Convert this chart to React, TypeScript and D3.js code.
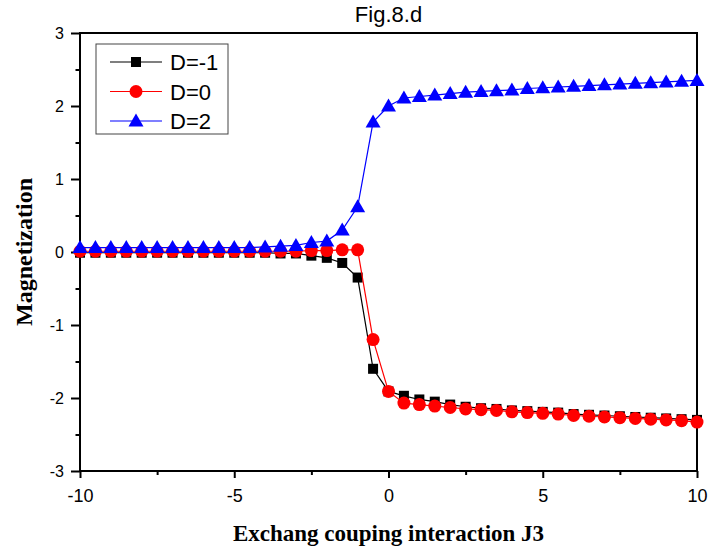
import { useEffect, useRef } from "react";
import * as d3 from "d3";

// значения J3 от -10 до 10 шагом 0.5
const jValues = [
  -10, -9.5, -9, -8.5, -8, -7.5, -7, -6.5, -6, -5.5, -5, -4.5, -4, -3.5, -3, -2.5, -2, -1.5, -1, -0.5,
  0, 0.5, 1, 1.5, 2, 2.5, 3, 3.5, 4, 4.5, 5, 5.5, 6, 6.5, 7, 7.5, 8, 8.5, 9, 9.5, 10,
];

const dMinus1 = [
  -0.01, -0.01, -0.01, -0.01, -0.01, -0.01, -0.01, -0.01, -0.01, -0.01, -0.01, -0.01, -0.01, -0.02, -0.02, -0.05, -0.08, -0.15, -0.35, -1.6,
  -1.91, -1.97, -2.02, -2.05, -2.09, -2.12, -2.14, -2.15, -2.17, -2.18, -2.19, -2.2, -2.22, -2.23, -2.24, -2.25, -2.26, -2.27, -2.28, -2.29, -2.3,
];

const d0 = [
  0.01, 0.01, 0.01, 0.01, 0.01, 0.01, 0.01, 0.01, 0.01, 0.01, 0.01, 0.01, 0.01, 0.01, 0.01, 0.02, 0.02, 0.03, 0.03, -1.2,
  -1.91, -2.07, -2.09, -2.11, -2.13, -2.15, -2.16, -2.17, -2.19, -2.2, -2.21, -2.22, -2.24, -2.25, -2.26, -2.27, -2.28, -2.29, -2.3, -2.31, -2.33,
];

const d2 = [
  0.06, 0.06, 0.06, 0.06, 0.06, 0.06, 0.06, 0.06, 0.06, 0.06, 0.06, 0.06, 0.07, 0.08, 0.09, 0.13, 0.15, 0.3, 0.62, 1.78,
  2.0, 2.11, 2.13, 2.15, 2.17, 2.19, 2.2, 2.21, 2.22, 2.24, 2.25, 2.26, 2.27, 2.28, 2.29, 2.3, 2.31, 2.32, 2.33, 2.34, 2.35,
];

const seriesNames = ["D=-1", "D=0", "D=2"];
const seriesColors = ["#000000", "#ff0000", "#0000ff"];
const seriesMarkers = ["square", "circle", "triangle"];
const xTicks = [-10, -5, 0, 5, 10];
const yTicks = [-3, -2, -1, 0, 1, 2, 3];

const SANS = "'Liberation Sans', Arial, sans-serif";
const SERIF = "'Liberation Serif', 'Times New Roman', serif";

function drawMarker(g, kind, color) {
  if (kind === "square") {
    g.append("rect").attr("x", -5).attr("y", -5).attr("width", 10).attr("height", 10).attr("fill", color);
  } else if (kind === "circle") {
    g.append("circle").attr("r", 6.5).attr("fill", color);
  } else {
    g.append("path").attr("d", "M0,-7.5L7.5,5.5L-7.5,5.5Z").attr("fill", color);
  }
}

function MagnetChart() {
  const ref = useRef(null);

  useEffect(() => {
    const margin = { top: 33, right: 13, bottom: 81, left: 80 };
    const width = 710 - margin.left - margin.right;
    const height = 552 - margin.top - margin.bottom;

    ref.current.innerHTML = "";
    const root = d3
      .select(ref.current)
      .append("svg")
      .attr("width", 710)
      .attr("height", 552)
      .style("position", "absolute")
      .style("left", 0)
      .style("top", 0)
      .style("background", "#fff");

    const svg = root.append("g").attr("transform", `translate(${margin.left},${margin.top})`);

    const x = d3.scaleLinear().domain([-10, 10]).range([0, width]);
    const y = d3.scaleLinear().domain([-3, 3]).range([height, 0]);

    // рамка
    svg
      .append("rect")
      .attr("width", width)
      .attr("height", height)
      .attr("fill", "none")
      .attr("stroke", "#000")
      .attr("stroke-width", 2);

    // малые деления
    const minorX = svg
      .append("g")
      .attr("transform", `translate(0,${height})`)
      .call(d3.axisBottom(x).tickValues(d3.range(-7.5, 10, 5)).tickSize(4).tickFormat(() => ""));
    const minorY = svg
      .append("g")
      .call(d3.axisLeft(y).tickValues(d3.range(-2.5, 3, 1)).tickSize(4.5).tickFormat(() => ""));

    // Ось X (обычный дефис вместо знака минус)
    const gx = svg
      .append("g")
      .attr("transform", `translate(0,${height})`)
      .call(d3.axisBottom(x).tickValues(xTicks).tickSize(7).tickPadding(11).tickFormat((d) => String(d)));

    // Ось Y
    const gy = svg
      .append("g")
      .call(d3.axisLeft(y).tickValues(yTicks).tickSize(9).tickPadding(7).tickFormat((d) => String(d)));

    [minorX, minorY, gx, gy].forEach((g) => {
      g.select(".domain").remove();
      g.selectAll(".tick line").attr("stroke", "#000").attr("stroke-width", 2);
    });
    gx.selectAll(".tick text")
      .attr("font-family", SANS)
      .attr("font-size", 18)
      .attr("fill", "#000");
    gy.selectAll(".tick text")
      .attr("font-family", SANS)
      .attr("font-size", 16)
      .attr("fill", "#000");

    const series = [dMinus1, d0, d2];
    const line = d3
      .line()
      .x((d, i) => x(jValues[i]))
      .y((d) => y(d));

    series.forEach((vals, si) => {
      svg
        .append("path")
        .datum(vals)
        .attr("d", line)
        .attr("fill", "none")
        .attr("stroke", seriesColors[si])
        .attr("stroke-width", 1.2);
      vals.forEach((v, i) => {
        const g = svg.append("g").attr("transform", `translate(${x(jValues[i])},${y(v)})`);
        drawMarker(g, seriesMarkers[si], seriesColors[si]);
      });
    });

    // Легенда
    const legend = svg.append("g").attr("transform", "translate(16,11)");
    legend
      .append("rect")
      .attr("width", 132)
      .attr("height", 90)
      .attr("fill", "#fff")
      .attr("stroke", "#444")
      .attr("stroke-width", 1);
    seriesNames.forEach((name, i) => {
      const ly = 18 + i * 29.5;
      legend
        .append("line")
        .attr("x1", 14)
        .attr("x2", 66)
        .attr("y1", ly)
        .attr("y2", ly)
        .attr("stroke", seriesColors[i])
        .attr("stroke-width", 1.2);
      const mg = legend.append("g").attr("transform", `translate(40,${ly})`);
      drawMarker(mg, seriesMarkers[i], seriesColors[i]);
      legend
        .append("text")
        .attr("x", 74)
        .attr("y", ly + 8)
        .attr("font-family", SANS)
        .attr("font-size", 22)
        .text(name);
    });

    // Заголовки и подписи
    root
      .append("text")
      .attr("text-anchor", "middle")
      .attr("x", margin.left + width / 2)
      .attr("y", 22)
      .attr("font-family", SANS)
      .attr("font-size", 22)
      .text("Fig.8.d");

    root
      .append("text")
      .attr("text-anchor", "middle")
      .attr("transform", `translate(32,${margin.top + height / 2}) rotate(-90)`)
      .attr("font-family", SERIF)
      .attr("font-weight", "bold")
      .attr("font-size", 24)
      .text("Magnetization");

    root
      .append("text")
      .attr("text-anchor", "middle")
      .attr("x", margin.left + width / 2)
      .attr("y", 541)
      .attr("font-family", SERIF)
      .attr("font-weight", "bold")
      .attr("font-size", 23)
      .text("Exchang couping interaction J3");
  }, []);

  return <div ref={ref}></div>;
}

export default function App() {
  return <MagnetChart />;
}
